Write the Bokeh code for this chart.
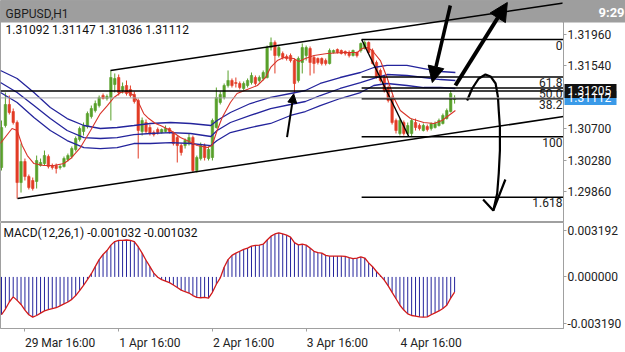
from bokeh.plotting import figure
from bokeh.models import (Range1d, FixedTicker, PrintfTickFormatter, Span, BoxAnnotation,
                          Arrow, NormalHead)
from bokeh.layouts import column
from bokeh.embed import file_html
from bokeh.resources import INLINE
from bokeh.core.properties import value

# ---------------- data ----------------
symbol_title = "GBPUSD,H1"
clock_text = "9:29"
last_ohlc_text = "1.31092 1.31147 1.31036 1.31112"
macd_title = "MACD(12,26,1) -0.001032 -0.001032"

opens = [1.30181, 1.30743, 1.31024, 1.30930, 1.30783, 1.29980, 1.30261, 1.30061, 1.30007, 1.29994,
         1.30208, 1.30234, 1.30328, 1.30208, 1.30208, 1.30181, 1.30194, 1.30288, 1.30328, 1.30422,
         1.30556, 1.30663, 1.30729, 1.30863, 1.30943, 1.31010, 1.31144, 1.31104, 1.31118, 1.31291,
         1.31385, 1.31211, 1.31278, 1.31225, 1.31158, 1.31077, 1.30663, 1.30783, 1.30716, 1.30649,
         1.30689, 1.30649, 1.30663, 1.30703, 1.30636, 1.30582, 1.30475, 1.30475, 1.30502, 1.30582,
         1.30141, 1.30301, 1.30475, 1.30301, 1.30315, 1.30716, 1.31051, 1.31118, 1.31278, 1.31345,
         1.31318, 1.31305, 1.31238, 1.31278, 1.31318, 1.31385, 1.31345, 1.31372, 1.31385, 1.31786,
         1.31853, 1.31679, 1.31706, 1.31666, 1.31679, 1.31612, 1.31345, 1.31586, 1.31679, 1.31773,
         1.31653, 1.31639, 1.31639, 1.31612, 1.31572, 1.31719, 1.31759, 1.31746, 1.31733, 1.31719,
         1.31679, 1.31719, 1.31746, 1.31773, 1.31853, 1.31746, 1.31586, 1.31479, 1.31385, 1.31251,
         1.31118, 1.30810, 1.30636, 1.30783, 1.30636, 1.30636, 1.30783, 1.30743, 1.30676, 1.30729,
         1.30703, 1.30716, 1.30743, 1.30770, 1.30836, 1.30930, 1.31092]
highs = [1.30810, 1.31184, 1.31144, 1.30970, 1.30810, 1.30502, 1.30301, 1.30087, 1.30047, 1.30341,
         1.30301, 1.30408, 1.30355, 1.30234, 1.30234, 1.30221, 1.30328, 1.30368, 1.30462, 1.30596,
         1.30729, 1.30783, 1.30930, 1.31010, 1.31077, 1.31144, 1.31171, 1.31158, 1.31479, 1.31439,
         1.31425, 1.31318, 1.31345, 1.31278, 1.31198, 1.31104, 1.30850, 1.30823, 1.30756, 1.30676,
         1.30716, 1.30703, 1.30743, 1.30716, 1.30663, 1.30609, 1.30502, 1.30569, 1.30636, 1.30609,
         1.30341, 1.30515, 1.30502, 1.30462, 1.30836, 1.31251, 1.31198, 1.31305, 1.31479, 1.31372,
         1.31385, 1.31332, 1.31332, 1.31372, 1.31452, 1.31412, 1.31412, 1.31479, 1.31813, 1.31920,
         1.31880, 1.31813, 1.31733, 1.31693, 1.31706, 1.31639, 1.31666, 1.31840, 1.31813, 1.31800,
         1.31679, 1.31653, 1.31653, 1.31639, 1.31773, 1.31759, 1.31773, 1.31759, 1.31746, 1.31746,
         1.31759, 1.31733, 1.31853, 1.31880, 1.31867, 1.31773, 1.31612, 1.31505, 1.31412, 1.31278,
         1.31144, 1.30836, 1.30836, 1.30810, 1.30783, 1.30836, 1.30836, 1.30770, 1.30770, 1.30756,
         1.30783, 1.30796, 1.30836, 1.30903, 1.30970, 1.31211, 1.31147]
lows = [1.30141, 1.30716, 1.30890, 1.30756, 1.29766, 1.29846, 1.30007, 1.29887, 1.29873, 1.29900,
        1.30194, 1.30208, 1.30168, 1.30154, 1.30101, 1.30154, 1.30181, 1.30261, 1.30301, 1.30395,
        1.30529, 1.30609, 1.30703, 1.30836, 1.30917, 1.30984, 1.31091, 1.31077, 1.30810, 1.31184,
        1.31144, 1.31171, 1.31144, 1.31118, 1.31037, 1.30301, 1.30609, 1.30636, 1.30609, 1.30596,
        1.30622, 1.30636, 1.30649, 1.30636, 1.30475, 1.30248, 1.30341, 1.30435, 1.30475, 1.30114,
        1.30114, 1.30275, 1.30275, 1.30275, 1.30275, 1.30703, 1.31024, 1.31091, 1.31251, 1.31251,
        1.31251, 1.31225, 1.31211, 1.31251, 1.31291, 1.31278, 1.31318, 1.31345, 1.31372, 1.31746,
        1.31439, 1.31653, 1.31626, 1.31612, 1.31586, 1.31171, 1.31318, 1.31439, 1.31612, 1.31412,
        1.31439, 1.31559, 1.31546, 1.31546, 1.31559, 1.31706, 1.31706, 1.31693, 1.31679, 1.31653,
        1.31666, 1.31653, 1.31719, 1.31759, 1.31706, 1.31559, 1.31372, 1.31318, 1.31184, 1.31051,
        1.30756, 1.30636, 1.30609, 1.30609, 1.30609, 1.30596, 1.30676, 1.30676, 1.30663, 1.30663,
        1.30676, 1.30703, 1.30729, 1.30756, 1.30823, 1.30917, 1.31036]
closes = [1.30716, 1.31024, 1.30917, 1.30783, 1.29980, 1.30261, 1.30061, 1.29913, 1.29900, 1.30275,
          1.30248, 1.30341, 1.30194, 1.30181, 1.30168, 1.30194, 1.30301, 1.30341, 1.30435, 1.30569,
          1.30703, 1.30743, 1.30903, 1.30970, 1.31037, 1.31118, 1.31104, 1.31131, 1.31385, 1.31372,
          1.31184, 1.31265, 1.31171, 1.31144, 1.31064, 1.30676, 1.30810, 1.30663, 1.30636, 1.30622,
          1.30649, 1.30689, 1.30703, 1.30663, 1.30502, 1.30475, 1.30382, 1.30542, 1.30582, 1.30141,
          1.30315, 1.30475, 1.30315, 1.30422, 1.30810, 1.31118, 1.31158, 1.31278, 1.31345, 1.31278,
          1.31305, 1.31251, 1.31305, 1.31345, 1.31412, 1.31305, 1.31385, 1.31452, 1.31786, 1.31853,
          1.31679, 1.31786, 1.31653, 1.31639, 1.31612, 1.31305, 1.31639, 1.31786, 1.31786, 1.31586,
          1.31572, 1.31586, 1.31572, 1.31572, 1.31746, 1.31746, 1.31719, 1.31706, 1.31706, 1.31679,
          1.31746, 1.31679, 1.31840, 1.31853, 1.31719, 1.31572, 1.31385, 1.31345, 1.31211, 1.31077,
          1.30783, 1.30676, 1.30810, 1.30636, 1.30743, 1.30810, 1.30716, 1.30703, 1.30743, 1.30689,
          1.30770, 1.30770, 1.30810, 1.30877, 1.30943, 1.31171, 1.31112]

macd = [-0.00258, -0.00219, -0.00171, -0.00136, -0.00160, -0.00188, -0.00226, -0.00258, -0.00274, -0.00263,
        -0.00247, -0.00232, -0.00223, -0.00217, -0.00210, -0.00197, -0.00184, -0.00171, -0.00153, -0.00127,
        -0.00094, -0.00057, -0.00018, 0.00022, 0.00070, 0.00118, 0.00153, 0.00180, 0.00217, 0.00241,
        0.00250, 0.00250, 0.00252, 0.00250, 0.00241, 0.00206, 0.00162, 0.00114, 0.00070, 0.00026,
        -0.00002, -0.00018, -0.00028, -0.00039, -0.00055, -0.00072, -0.00090, -0.00101, -0.00110, -0.00127,
        -0.00140, -0.00142, -0.00140, -0.00145, -0.00105, -0.00050, -0.00007, 0.00066, 0.00118, 0.00147,
        0.00162, 0.00175, 0.00188, 0.00197, 0.00210, 0.00215, 0.00217, 0.00223, 0.00252, 0.00278,
        0.00293, 0.00300, 0.00293, 0.00285, 0.00272, 0.00234, 0.00219, 0.00223, 0.00217, 0.00197,
        0.00175, 0.00166, 0.00162, 0.00147, 0.00142, 0.00142, 0.00142, 0.00142, 0.00140, 0.00131,
        0.00125, 0.00129, 0.00136, 0.00129, 0.00096, 0.00070, 0.00037, 0.00009, -0.00022, -0.00061,
        -0.00105, -0.00149, -0.00193, -0.00226, -0.00252, -0.00263, -0.00267, -0.00272, -0.00274, -0.00272,
        -0.00258, -0.00245, -0.00232, -0.00215, -0.00193, -0.00145, -0.001032]

# red moving average (bar index, price)
ma_x = [-0.3, 2.7, 4.0, 5.3, 6.6, 8.3, 10.8, 13.4, 16.0, 17.7, 20.2, 22.8, 25.3, 27.1, 28.8, 30.5,
        32.2, 33.9, 35.2, 36.4, 37.7, 39.4, 40.7, 43.3, 45.8, 47.5, 50.1, 52.7, 53.9, 55.2, 56.5,
        58.6, 60.3, 62.9, 65.5, 67.6, 68.9, 70.6, 72.3, 74.8, 76.1, 77.8, 80.0, 83.4, 87.6, 91.1,
        92.3, 93.6, 94.9, 97.0, 98.7, 100.4, 102.1, 104.7, 108.1, 110.7, 112.8, 114.5, 116.2]
ma_y = [1.30502, 1.30703, 1.30676, 1.30475, 1.30341, 1.30234, 1.30208, 1.30208, 1.30234, 1.30301,
        1.30448, 1.30676, 1.30903, 1.31010, 1.31118, 1.31184, 1.31198, 1.31144, 1.31037, 1.30903,
        1.30836, 1.30770, 1.30743, 1.30676, 1.30582, 1.30542, 1.30475, 1.30448, 1.30475, 1.30676,
        1.30850, 1.31051, 1.31171, 1.31225, 1.31278, 1.31385, 1.31519, 1.31612, 1.31653, 1.31639,
        1.31599, 1.31639, 1.31679, 1.31706, 1.31719, 1.31719, 1.31773, 1.31786, 1.31746, 1.31612,
        1.31385, 1.31118, 1.30943, 1.30836, 1.30783, 1.30770, 1.30810, 1.30877, 1.30943]

# blue envelope lines (bar index, price)
env_x = [-0.26, 4.0, 8.3, 12.5, 16.8, 21.1, 25.3, 29.6, 33.9, 38.1, 43.3, 48.4, 53.6, 55.2,
         58.6, 63.7, 68.9, 74.0, 77.8, 81.6, 86.7, 91.9, 95.3, 98.7, 103.8, 108.1, 112.4, 116.2]
env_top = [1.31479, 1.31372, 1.31184, 1.30984, 1.30836, 1.30743, 1.30703, 1.30716, 1.30743, 1.30770,
           1.30783, 1.30770, 1.30743, 1.30810, 1.30917, 1.31037, 1.31118, 1.31171, 1.31211, 1.31305,
           1.31385, 1.31452, 1.31519, 1.31546, 1.31546, 1.31505, 1.31465, 1.31452]
env_mid = [1.31318, 1.31184, 1.31010, 1.30836, 1.30676, 1.30582, 1.30569, 1.30582, 1.30622, 1.30636,
           1.30649, 1.30636, 1.30596, 1.30676, 1.30783, 1.30877, 1.30970, 1.31024, 1.31064, 1.31144,
           1.31238, 1.31318, 1.31372, 1.31425, 1.31412, 1.31385, 1.31358, 1.31345]
env_bot = [1.31184, 1.31051, 1.30850, 1.30676, 1.30542, 1.30448, 1.30435, 1.30448, 1.30502, 1.30502,
           1.30515, 1.30502, 1.30475, 1.30542, 1.30649, 1.30716, 1.30770, 1.30877, 1.30930, 1.31010,
           1.31104, 1.31184, 1.31278, 1.31305, 1.31278, 1.31251, 1.31251, 1.31238]

# drawn objects
channel_top_x = [27.9, 143.9]
channel_top_y = [1.31479, 1.32382]
channel_bot_x = [4.1, 143.9]
channel_bot_y = [1.29766, 1.30863]

hline_price = 1.31205
bid_price = 1.31112
tag_prices = [bid_price, hline_price]          # drawn in this order (black tag on top)
tag_colors = ["#3a9ae8", "#111111"]

fib_start = 92.2
fib_end = 150.0
fib_levels = [1.31893, 1.31392, 1.31245, 1.31100, 1.30592, 1.29784]
fib_labels = ["0", "61.8", "50.0", "38.2", "100", "1.618"]
fib_diag_x = [92.2, 104.3]
fib_diag_y = [1.31893, 1.30592]

arrow_thin = (73.1, 1.30587, 74.8, 1.31167)
arrow_down = (114.9, 1.32348, 110.3, 1.31318)
arrow_up = (116.2, 1.31278, 129.5, 1.32388)

curve_x = [119.2, 120.5, 122.2, 123.9, 125.2, 126.5, 127.1, 127.3, 127.6, 127.6, 127.3, 126.9, 125.9]
curve_y = [1.31077, 1.31238, 1.31372, 1.31425, 1.31399, 1.31305, 1.31122, 1.30943, 1.30720,
           1.30408, 1.30101, 1.29833, 1.29606]
curve_head_x = [123.3, 125.9, 129.0]
curve_head_y = [1.29753, 1.29606, 1.30021]

price_ticks = [1.29860, 1.30280, 1.30700, 1.31540, 1.31960]
macd_ticks = [-0.003190, 0.0, 0.003192]
time_ticks = [6, 30, 54, 78, 102]
time_labels = ["29 Mar 16:00", "1 Apr 16:00", "2 Apr 16:00", "3 Apr 16:00", "4 Apr 16:00"]

# ---------------- layout constants ----------------
PX_PER_BAR = 3.906
X_LO, X_HI = -0.256, 143.88
PRICE_TOP, PRICE_PER_PX = 1.32415, 0.00013376
MACD_TOP, MACD_BOT = 0.003713, -0.003518
LABEL_HALF_BARS = [9, 8, 8, 8, 8]   # centred labels then start at their time tick

def xi(px):
    return (px - 1.0) / PX_PER_BAR

def yp(py):
    return PRICE_TOP - py * PRICE_PER_PX

GREEN = "#58a02a"
RED = "#e23c26"
MA_RED = "#d9342a"
NAVY = "#24249c"
GRID_GRAY = "#a0a0a0"
BAR_GRAY = "#9e9e9e"
FONT = "Roboto"

xr = Range1d(X_LO, X_HI)

p = figure(width=625, height=222, x_range=xr, y_range=Range1d(yp(222), PRICE_TOP),
           output_backend="svg", toolbar_location=None, x_axis_location=None,
           y_axis_location="right", min_border_left=0, min_border_right=62,
           min_border_top=0, min_border_bottom=0)
p.grid.visible = False
p.outline_line_color = GRID_GRAY
p.background_fill_color = "white"
p.border_fill_color = "white"

ya = p.yaxis[0]
ya.ticker = FixedTicker(ticks=price_ticks)
ya.formatter = PrintfTickFormatter(format="%.5f")
ya.major_label_text_font = FONT
ya.major_label_text_font_size = "12px"
ya.major_label_text_color = "#222222"
ya.major_tick_out = 3
ya.major_tick_in = 0
ya.minor_tick_out = 0
ya.minor_tick_in = 0
ya.major_label_standoff = 1
ya.axis_line_color = GRID_GRAY
ya.major_tick_line_color = GRID_GRAY

# status bar (inside the frame)
status_bottom = yp(22)
p.add_layout(BoxAnnotation(bottom=status_bottom, fill_color=BAR_GRAY, fill_alpha=1.0,
                           line_alpha=0, level="underlay"))

idx = list(range(len(closes)))
colors = [GREEN if c >= o else RED for o, c in zip(opens, closes)]
p.segment(x0=idx, y0=lows, x1=idx, y1=highs, line_color=colors, line_width=1)
p.vbar(x=idx, width=0.62, top=[max(o, c) for o, c in zip(opens, closes)],
       bottom=[min(o, c) for o, c in zip(opens, closes)],
       fill_color=colors, line_color=colors, line_width=0.6)

for ys in (env_top, env_mid, env_bot):
    p.line(env_x, ys, line_color=NAVY, line_width=1.3)
p.line(ma_x, ma_y, line_color=MA_RED, line_width=1.1)

# horizontal lines
p.add_layout(Span(location=bid_price, dimension="width", line_color="#a8a8a8", line_width=1))
p.add_layout(Span(location=hline_price, dimension="width", line_color="black", line_width=1.6))

# channel
p.line(channel_top_x, channel_top_y, line_color="black", line_width=1.5)
p.line(channel_bot_x, channel_bot_y, line_color="black", line_width=1.5)

# fibonacci
p.segment(x0=[fib_start] * len(fib_levels), y0=fib_levels, x1=[fib_end] * len(fib_levels),
          y1=fib_levels, line_color="black", line_width=1.4)
p.line(fib_diag_x, fib_diag_y, line_color="black", line_width=1.4)
p.text(x=[xi(562)] * len(fib_levels), y=[v - 1.2 * PRICE_PER_PX for v in fib_levels], text=fib_labels,
       text_font=value(FONT), text_font_size="12px", text_color="#222222",
       text_align="right", text_baseline="top")

# arrows
p.add_layout(Arrow(end=NormalHead(size=9, fill_color="black", line_color="black"),
                   x_start=arrow_thin[0], y_start=arrow_thin[1], x_end=arrow_thin[2], y_end=arrow_thin[3],
                   line_color="black", line_width=2))
p.add_layout(Arrow(end=NormalHead(size=16, fill_color="black", line_color="black"),
                   x_start=arrow_down[0], y_start=arrow_down[1], x_end=arrow_down[2], y_end=arrow_down[3],
                   line_color="black", line_width=3.5))
p.add_layout(Arrow(end=NormalHead(size=18, fill_color="black", line_color="black"),
                   x_start=arrow_up[0], y_start=arrow_up[1], x_end=arrow_up[2], y_end=arrow_up[3],
                   line_color="black", line_width=4))
p.line(curve_x, curve_y, line_color="black", line_width=2.2)
p.line(curve_head_x, curve_head_y, line_color="black", line_width=2.2)

# header texts
p.text(x=[xi(5)], y=[yp(13)], text=[symbol_title], text_font=value(FONT), text_font_size="12px",
       text_color="#1e1e1e", text_baseline="middle")
p.text(x=[xi(5)], y=[yp(29)], text=[last_ohlc_text], text_font=value(FONT), text_font_size="12px",
       text_color="#111111", text_baseline="middle")

# --- items in the right margin: overlay-level glyphs are not clipped to the frame ---
p.quad(left=[xi(562)], right=[xi(630)], bottom=[status_bottom], top=[yp(-2)],
       fill_color=BAR_GRAY, line_alpha=0, level="overlay")
p.text(x=[xi(598)], y=[yp(12)], text=[clock_text], text_font=value(FONT), text_font_size="13px",
       text_font_style="bold", text_color="white", text_baseline="middle", level="overlay")
half = 7 * PRICE_PER_PX
p.quad(left=[xi(564)] * 2, right=[xi(616)] * 2, bottom=[v - half for v in tag_prices],
       top=[v + half for v in tag_prices], fill_color=tag_colors, line_alpha=0, level="overlay")
for v in tag_prices:
    p.text(x=[xi(567)], y=[v], text=["%.5f" % v], text_font=value(FONT), text_font_size="12px",
           text_color="white", text_baseline="middle", level="overlay")

# ---------------- MACD panel ----------------
m = figure(width=625, height=130, x_range=xr, y_range=Range1d(MACD_BOT, MACD_TOP),
           output_backend="svg", toolbar_location=None, y_axis_location="right",
           min_border_left=0, min_border_right=62, min_border_top=0, min_border_bottom=19)
m.grid.visible = False
m.outline_line_color = GRID_GRAY
my = m.yaxis[0]
my.ticker = FixedTicker(ticks=macd_ticks)
my.formatter = PrintfTickFormatter(format="%.6f")
mx = m.xaxis[0]
label_pos = [t + h for t, h in zip(time_ticks, LABEL_HALF_BARS)]
mx.ticker = FixedTicker(ticks=label_pos, minor_ticks=time_ticks)
mx.major_label_overrides = {t: s for t, s in zip(label_pos, time_labels)}
for ax in (my, mx):
    ax.major_label_text_font = FONT
    ax.major_label_text_font_size = "12px"
    ax.major_label_text_color = "#222222"
    ax.major_tick_in = 0
    ax.minor_tick_in = 0
    ax.major_label_standoff = 1
    ax.axis_line_color = GRID_GRAY
    ax.major_tick_line_color = GRID_GRAY
    ax.minor_tick_line_color = GRID_GRAY
my.major_tick_out = 3
my.minor_tick_out = 0
mx.major_tick_out = 0
mx.minor_tick_out = 3
mx.major_label_standoff = 4

m.segment(x0=idx, y0=[0.0] * len(idx), x1=idx, y1=macd, line_color=NAVY, line_width=1)
m.line(idx, macd, line_color="#d21a1a", line_width=1.3)
m.text(x=[xi(3)], y=[MACD_TOP - 11 * (MACD_TOP - MACD_BOT) / 111], text=[macd_title],
       text_font=value(FONT), text_font_size="12px", text_color="#111111", text_baseline="middle")

layout = column(p, m, spacing=0)
open("out.html", "w").write(file_html(layout, INLINE))
